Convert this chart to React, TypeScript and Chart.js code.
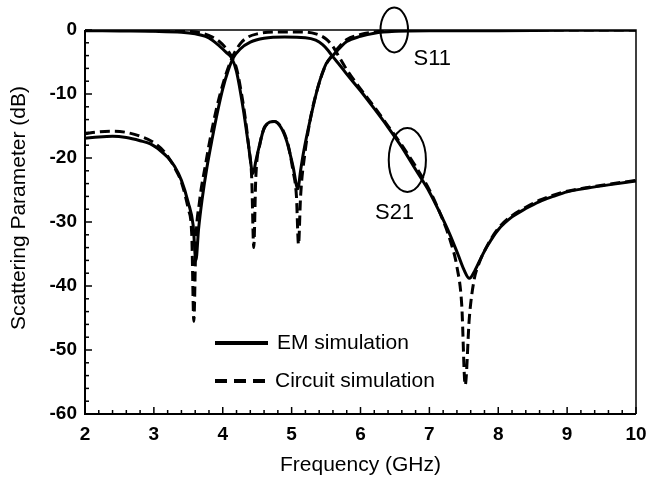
import { useEffect, useRef } from 'react';
import { Chart, registerables } from 'chart.js';

Chart.register(...registerables);

// ---------------- data (frequency in GHz, magnitude in dB) ----------------
const s21EmFreq = [2.0, 2.2, 2.4, 2.6, 2.8, 2.95, 3.1, 3.2, 3.3, 3.4, 3.5, 3.57, 3.61, 3.65, 3.7, 3.77, 3.85, 3.92, 4.0, 4.08, 4.15, 4.25, 4.4, 4.6, 4.9, 5.2, 5.35, 5.45, 5.53, 5.6, 5.7, 5.8, 6.0, 6.2, 6.4, 6.6, 6.8, 7.0, 7.15, 7.3, 7.42, 7.5, 7.58, 7.66, 7.75, 7.85, 8.0, 8.2, 8.4, 8.6, 8.8, 9.0, 9.3, 9.6, 10.0];
const s21EmDb = [-16.9, -16.7, -16.6, -16.8, -17.3, -17.8, -18.9, -19.9, -21.3, -23.5, -27.0, -30.5, -36.0, -31.0, -26.5, -21.5, -16.8, -13.0, -9.2, -6.3, -4.4, -3.0, -1.9, -1.3, -1.1, -1.2, -1.6, -2.3, -3.2, -4.2, -5.5, -6.9, -9.5, -12.3, -15.2, -18.3, -21.8, -25.3, -28.5, -32.0, -35.2, -37.4, -38.8, -37.6, -35.6, -33.6, -31.2, -29.2, -27.9, -26.8, -26.0, -25.3, -24.7, -24.2, -23.6];

const s21CircuitFreq = [2.0, 2.2, 2.4, 2.6, 2.8, 3.0, 3.15, 3.3, 3.4, 3.5, 3.55, 3.58, 3.61, 3.66, 3.75, 3.85, 3.95, 4.05, 4.15, 4.25, 4.35, 4.5, 4.8, 5.1, 5.35, 5.5, 5.6, 5.7, 5.8, 6.0, 6.2, 6.4, 6.6, 6.8, 7.0, 7.15, 7.3, 7.4, 7.47, 7.52, 7.58, 7.65, 7.72, 7.85, 8.0, 8.2, 8.4, 8.6, 8.8, 9.0, 9.3, 9.6, 10.0];
const s21CircuitDb = [-16.2, -15.9, -15.8, -16.0, -16.6, -17.6, -19.0, -21.5, -23.8, -28.0, -32.0, -45.5, -33.0, -27.0, -21.0, -15.2, -10.5, -6.8, -4.0, -2.2, -1.2, -0.6, -0.3, -0.3, -0.6, -1.4, -2.6, -4.4, -6.2, -9.2, -12.0, -15.0, -18.0, -21.3, -25.0, -28.5, -32.8, -37.0, -43.0, -55.5, -45.0, -39.0, -36.5, -33.5, -31.0, -29.0, -27.7, -26.6, -25.8, -25.2, -24.6, -24.1, -23.5];

const s11EmFreq = [2.0, 2.5, 3.0, 3.4, 3.6, 3.75, 3.85, 3.95, 4.05, 4.13, 4.2, 4.3, 4.37, 4.44, 4.48, 4.54, 4.61, 4.75, 4.85, 4.93, 5.02, 5.09, 5.13, 5.17, 5.27, 5.38, 5.5, 5.6, 5.7, 5.8, 6.0, 6.2, 6.5, 7.0, 8.0, 9.0, 10.0];
const s11EmDb = [-0.1, -0.15, -0.2, -0.35, -0.6, -1.0, -1.6, -2.5, -3.5, -4.4, -6.5, -12.5, -17.7, -22.4, -20.5, -17.7, -15.1, -14.3, -15.3, -17.4, -21.3, -24.8, -22.0, -19.3, -14.0, -9.0, -5.3, -4.0, -2.8, -1.8, -1.0, -0.5, -0.2, -0.1, -0.1, -0.05, -0.05];

const s11CircuitFreq = [2.0, 3.0, 3.5, 3.7, 3.85, 3.95, 4.05, 4.13, 4.2, 4.27, 4.33, 4.38, 4.42, 4.45, 4.48, 4.54, 4.61, 4.75, 4.88, 4.95, 5.02, 5.07, 5.1, 5.13, 5.19, 5.27, 5.38, 5.5, 5.6, 5.7, 5.8, 6.0, 6.2, 6.5, 7.0, 10.0];
const s11CircuitDb = [0.0, -0.1, -0.2, -0.5, -1.1, -1.8, -2.9, -4.2, -6.0, -9.8, -14.0, -18.5, -23.0, -34.0, -23.0, -17.8, -15.2, -14.3, -15.8, -18.0, -22.0, -26.0, -33.5, -26.0, -19.5, -14.0, -9.0, -5.4, -3.8, -2.5, -1.5, -0.7, -0.3, -0.1, 0.0, 0.0];

// axes
const xMin = 2;
const xMax = 10;
const xMajorStep = 1;
const xMinorStep = 0.2;
const yMin = -60;
const yMax = 0;
const yMajorStep = 10;
const yMinorStep = 2;

// texts
const xTitle = 'Frequency (GHz)';
const yTitle = 'Scattering Parameter (dB)';
const legendLabels = ['EM simulation', 'Circuit simulation'];

// annotations: ellipse centre (GHz, dB) and radii (GHz, dB)
const ellipseNames = ['S11', 'S21'];
const ellipseFreq = [6.49, 6.68];
const ellipseDb = [0, -20.3];
const ellipseRadFreq = [0.2, 0.27];
const ellipseRadDb = [3.5, 5.0];
const labelFreq = [6.77, 6.21];
const labelDb = [-4.5, -28.6];

const FONT = '"Liberation Sans", Arial, Helvetica, sans-serif';

function toPoints(xs: number[], ys: number[]) {
  return xs.map((x, i) => ({ x, y: ys[i] }));
}

const decorPlugin = {
  id: 'decor',
  afterDraw(chart: any) {
    const { ctx, chartArea: a } = chart;
    const x = chart.scales.x;
    const y = chart.scales.y;
    ctx.save();
    ctx.strokeStyle = '#000';
    ctx.fillStyle = '#000';

    // frame
    ctx.lineWidth = 1.5;
    ctx.beginPath();
    ctx.moveTo(a.left, a.top);
    ctx.lineTo(a.right, a.top);
    ctx.lineTo(a.right, a.bottom);
    ctx.stroke();
    ctx.lineWidth = 2;
    ctx.beginPath();
    ctx.moveTo(a.left, a.top);
    ctx.lineTo(a.left, a.bottom);
    ctx.lineTo(a.right, a.bottom);
    ctx.stroke();

    // inward ticks
    ctx.lineWidth = 1.5;
    const nx = Math.round((xMax - xMin) / xMinorStep);
    for (let i = 0; i <= nx; i++) {
      const v = xMin + i * xMinorStep;
      const major = Math.abs(v / xMajorStep - Math.round(v / xMajorStep)) < 1e-6;
      const px = x.getPixelForValue(v);
      ctx.beginPath();
      ctx.moveTo(px, a.bottom);
      ctx.lineTo(px, a.bottom - (major ? 7 : 4));
      ctx.stroke();
    }
    const ny = Math.round((yMax - yMin) / yMinorStep);
    for (let i = 0; i <= ny; i++) {
      const v = yMin + i * yMinorStep;
      const major = Math.abs(v / yMajorStep - Math.round(v / yMajorStep)) < 1e-6;
      const py = y.getPixelForValue(v);
      ctx.beginPath();
      ctx.moveTo(a.left, py);
      ctx.lineTo(a.left + (major ? 7 : 4), py);
      ctx.stroke();
    }

    // axis titles
    ctx.font = `21px ${FONT}`;
    ctx.textAlign = 'center';
    ctx.textBaseline = 'middle';
    ctx.fillText(xTitle, (a.left + a.right) / 2, 465);
    ctx.save();
    ctx.translate(19, 208);
    ctx.rotate(-Math.PI / 2);
    ctx.font = `21px ${FONT}`;
    ctx.fillText(yTitle, 0, 0);
    ctx.restore();

    // ellipses and labels
    ctx.lineWidth = 2;
    ellipseNames.forEach((name, i) => {
      const cx = x.getPixelForValue(ellipseFreq[i]);
      const cy = y.getPixelForValue(ellipseDb[i]);
      const rx = Math.abs(x.getPixelForValue(ellipseFreq[i] + ellipseRadFreq[i]) - cx);
      const ry = Math.abs(y.getPixelForValue(ellipseDb[i] + ellipseRadDb[i]) - cy);
      ctx.beginPath();
      ctx.ellipse(cx, cy, rx, ry, 0, 0, Math.PI * 2);
      ctx.stroke();
      ctx.font = `22px ${FONT}`;
      ctx.textAlign = 'left';
      ctx.textBaseline = 'middle';
      ctx.fillText(name, x.getPixelForValue(labelFreq[i]), y.getPixelForValue(labelDb[i]));
    });

    // legend
    const lx0 = 215;
    const lx1 = 268;
    const ly = [343, 381];
    ctx.lineWidth = 4;
    ctx.beginPath();
    ctx.setLineDash([]);
    ctx.moveTo(lx0, ly[0]);
    ctx.lineTo(lx1, ly[0]);
    ctx.stroke();
    ctx.beginPath();
    ctx.setLineDash([12, 7]);
    ctx.moveTo(lx0, ly[1]);
    ctx.lineTo(lx1, ly[1]);
    ctx.stroke();
    ctx.setLineDash([]);
    ctx.font = `21px ${FONT}`;
    ctx.textAlign = 'left';
    ctx.textBaseline = 'middle';
    ctx.fillText(legendLabels[0], 277, ly[0]);
    ctx.fillText(legendLabels[1], 275, ly[1]);
    ctx.restore();
  },
};

export default function App() {
  const ref = useRef<HTMLCanvasElement | null>(null);

  useEffect(() => {
    if (!ref.current) return;
    const solid = { borderColor: '#000', borderWidth: 3, pointRadius: 0, fill: false, cubicInterpolationMode: 'monotone' as const, order: 1 };
    const dashed = { borderColor: '#000', borderWidth: 3, borderDash: [10, 5], pointRadius: 0, fill: false, cubicInterpolationMode: 'monotone' as const, order: 0 };
    const chart = new Chart(ref.current, {
      type: 'line',
      data: {
        datasets: [
          { label: 'S21 ' + legendLabels[0], data: toPoints(s21EmFreq, s21EmDb), ...solid },
          { label: 'S11 ' + legendLabels[0], data: toPoints(s11EmFreq, s11EmDb), ...solid },
          { label: 'S21 ' + legendLabels[1], data: toPoints(s21CircuitFreq, s21CircuitDb), ...dashed },
          { label: 'S11 ' + legendLabels[1], data: toPoints(s11CircuitFreq, s11CircuitDb), ...dashed },
        ],
      },
      options: {
        animation: false,
        responsive: false,
        layout: { padding: { top: 30, right: 11, left: 0, bottom: 0 } },
        plugins: { legend: { display: false }, tooltip: { enabled: false } },
        scales: {
          x: {
            type: 'linear',
            min: xMin,
            max: xMax,
            grid: { display: false, drawTicks: false },
            border: { display: false },
            ticks: { stepSize: xMajorStep, color: '#000', padding: 9, font: { family: FONT, size: 19, weight: 'bold' } },
            afterFit: (s: any) => { s.height = 64; s.paddingLeft = 0; s.paddingRight = 0; },
          },
          y: {
            type: 'linear',
            min: yMin,
            max: yMax,
            grid: { display: false, drawTicks: false },
            border: { display: false },
            ticks: { stepSize: yMajorStep, color: '#000', padding: 8, font: { family: FONT, size: 19, weight: 'bold' } },
            afterFit: (s: any) => { s.width = 85; s.paddingTop = 0; s.paddingBottom = 0; },
          },
        },
      },
      plugins: [decorPlugin],
    });
    return () => chart.destroy();
  }, []);

  return (
    <div style={{ position: 'fixed', left: 0, top: 0, width: 647, height: 478, background: '#fff' }}>
      <canvas ref={ref} width={647} height={478} style={{ display: 'block' }} />
    </div>
  );
}
